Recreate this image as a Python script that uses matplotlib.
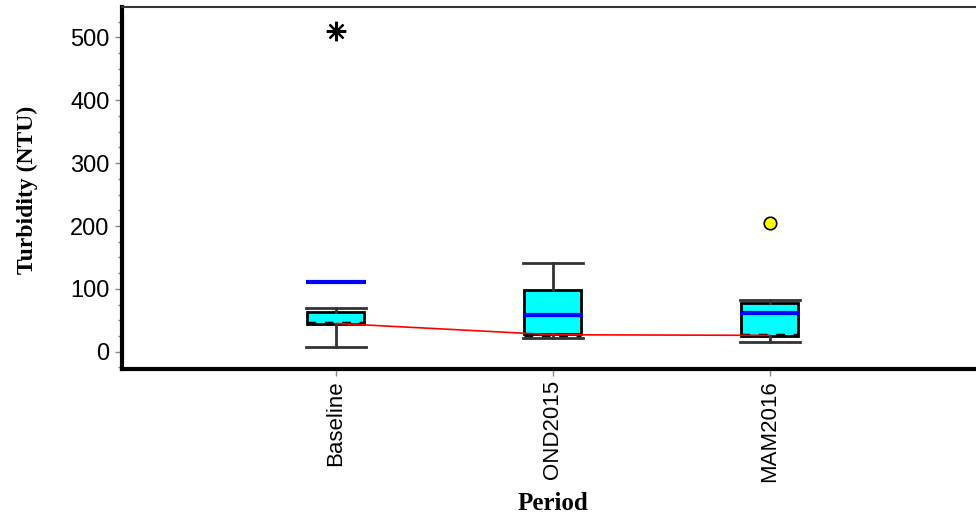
import matplotlib
matplotlib.use("Agg")
import matplotlib.pyplot as plt
from matplotlib.ticker import MultipleLocator

# Turbidity summary statistics per sampling period
periods = ["Baseline", "OND2015", "MAM2016"]
whisker_low = [7.5, 22, 15]
q1 = [44, 27.5, 25]
medians = [45, 27, 26]
q3 = [63, 98, 77]
whisker_high = [69.5, 140.5, 82]
means = [111, 59, 61]
extreme_outlier = [510, None, None]   # far outlier (asterisk)
mild_outlier = [None, None, 205]      # outlier (circle)

fig = plt.figure(figsize=(9.76, 5.16), dpi=100)
ax = fig.add_axes([0.125, 0.2849, 0.875, 0.7010])

positions = list(range(1, len(periods) + 1))
stats = []
for i, name in enumerate(periods):
    stats.append(dict(label=name, whislo=whisker_low[i], q1=q1[i], med=medians[i],
                      q3=q3[i], whishi=whisker_high[i], fliers=[]))

ax.bxp(stats, positions=positions, widths=0.263, patch_artist=True,
       showfliers=False,
       boxprops=dict(facecolor="#00ffff", edgecolor="black", linewidth=2),
       whiskerprops=dict(color="#333333", linewidth=2),
       capprops=dict(color="#333333", linewidth=2),
       medianprops=dict(color="black", linewidth=2.5, linestyle=(0, (2.5, 2.5))),
       capwidths=0.276)

# mean markers
for x, m in zip(positions, means):
    ax.hlines(m, x - 0.138, x + 0.138, colors="#0000ff", linewidth=3, zorder=4)

# median connecting line
ax.plot(positions, medians, color="red", linewidth=1.2, zorder=3)

# outliers
for x, v in zip(positions, extreme_outlier):
    if v is not None:
        ax.plot(x, v, marker=(8, 2, 0), color="black", markersize=14,
                markeredgewidth=1.6, zorder=5)
for x, v in zip(positions, mild_outlier):
    if v is not None:
        ax.plot(x, v, marker="o", markerfacecolor="#ffff00", markeredgecolor="black",
                markersize=9, markeredgewidth=1.2, zorder=5)

ax.set_xlim(0.014, 3.95)
ax.set_ylim(-27.5, 548)
ax.yaxis.set_major_locator(MultipleLocator(100))
ax.yaxis.set_minor_locator(MultipleLocator(25))

ax.set_xticks(positions)
ax.set_xticklabels(periods, rotation=90, fontsize=16, family="Liberation Sans")
for lbl in ax.get_yticklabels():
    lbl.set_family("Liberation Sans")
    lbl.set_fontsize(17)

ax.tick_params(axis="y", which="major", length=5, width=1, color="#888888", pad=4)
ax.tick_params(axis="y", which="minor", length=3, width=1, color="#888888")
ax.tick_params(axis="x", which="major", length=5, width=1, color="#888888", pad=3)

ax.spines["right"].set_visible(False)
ax.spines["left"].set_linewidth(3)
ax.spines["bottom"].set_linewidth(3)
ax.spines["top"].set_linewidth(1.5)
ax.spines["top"].set_color("#333333")

ax.set_xlabel("Period", family="Liberation Serif", fontweight="bold", fontsize=18)
ax.set_ylabel("Turbidity (NTU)", family="Liberation Serif", fontweight="bold",
              fontsize=17)
ax.xaxis.set_label_coords((553 - 122) / (0.875 * 976), -0.340)
ax.yaxis.set_label_coords(-0.098, 0.495)

fig.savefig("out.png", dpi=100)
